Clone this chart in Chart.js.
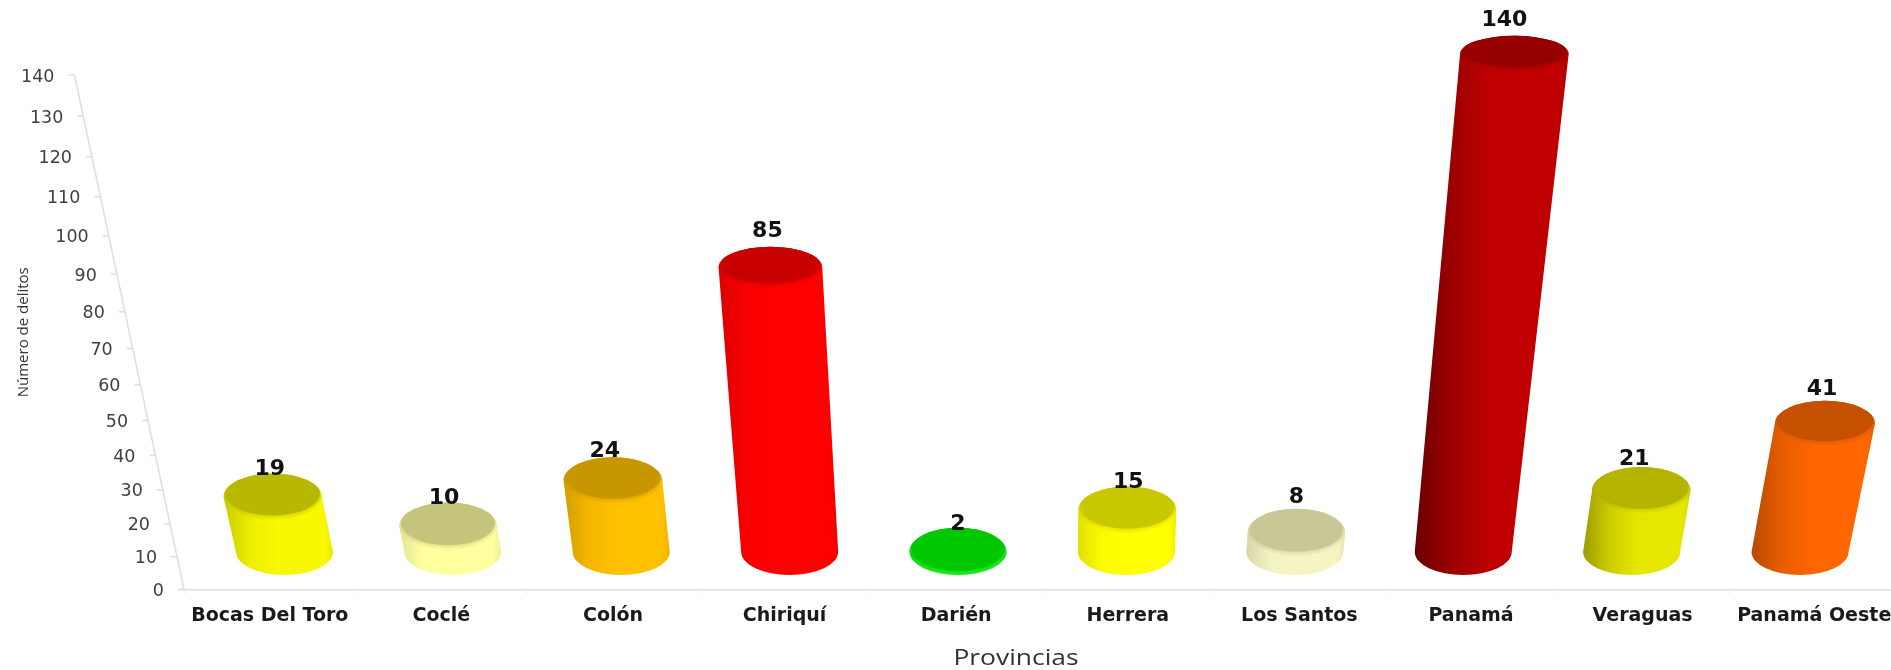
<!DOCTYPE html>
<html lang="es">
<head>
<meta charset="utf-8">
<title>Número de delitos por provincia</title>
<script src="https://cdn.jsdelivr.net/npm/chart.js@4/dist/chart.umd.min.js"></script>
<style>
  html, body { margin: 0; padding: 0; background: #fff; overflow: hidden; width: 1891px; height: 670px; }
  #wrap { width: 1920px; height: 670px; }
  canvas { filter: blur(0.5px); }
</style>
</head>
<body>
<div id="wrap"><canvas id="chart" width="1920" height="670"></canvas></div>
<script>
// ---------- Data ----------
const provincias = ['Bocas Del Toro', 'Coclé', 'Colón', 'Chiriquí', 'Darién', 'Herrera', 'Los Santos', 'Panamá', 'Veraguas', 'Panamá Oeste'];
const delitos = [19, 10, 24, 85, 2, 15, 8, 140, 21, 41];

// ---------- Bar styling ----------
const bodyColors = ['#f8f800', '#ffffa0', '#ffc000', '#ff0000', '#22ee22', '#ffff00', '#f4f4c4', '#c00000', '#e6e600', '#ff6600'];
const faceColors = ['#b8b800', '#c4c47c', '#c89600', '#c80000', '#00c800', '#c8c800', '#c8c896', '#960000', '#b4b400', '#c45000'];
const edgeShades = [0.82, 0.9, 0.82, 0.86, 0.9, 0.88, 0.88, 0.55, 0.68, 0.72];
const labelDx = [-3, -4, -8, -3, 0, 1, 0, -10, -7, -3];
const labelLift = [4, 4, 6, 16, 3, 4, 11, 16, 8, 12];

// ---------- Fake 3D view settings ----------
const VANISH_X = 1056;   // x where columns stand straight
const FLOOR_PULL = 0.0187;
const LEAN = 0.1256;
const BASE_Y_OFFSET = 37.5;  // base centre above the wall's zero
const TOP_Y_OFFSET = 31.5;
const HEIGHT_SCALE = 0.98;

const shade = (hex, f) => {
  const n = parseInt(hex.slice(1), 16);
  const c = [n >> 16, (n >> 8) & 255, n & 255].map((v) => Math.round(v * f));
  return `rgb(${c.join(',')})`;
};

// ---------- Value axis foreshortened towards the viewer ----------
class PerspectiveScale extends Chart.LinearScale {
  static id = 'perspective';
  static defaults = Chart.LinearScale.defaults;

  getPixelForDecimal(d) {
    const k = -0.1193;
    return super.getPixelForDecimal(d * (1 + k) / (1 + k * d));
  }
  // fraction of the full axis height reached by a value, on screen
  rise(v) {
    const y0 = this.getPixelForValue(this.min);
    return (y0 - this.getPixelForValue(v)) / (y0 - this.getPixelForValue(this.max));
  }
  slantX(v) {
    return this.right - 109.5 * this.rise(v);
  }
  _computeLabelItems(chartArea) {
    const items = super._computeLabelItems(chartArea);
    items.forEach((item, i) => {
      item.options.translation[0] = this.slantX(this.ticks[i].value) - 20;
      item.options.translation[1] += 2;
    });
    return items;
  }
}
Chart.register(PerspectiveScale);

// ---------- Slanted value axis line and ticks ----------
const slantedAxis = {
  id: 'slantedAxis',
  beforeDatasetsDraw(chart) {
    const y = chart.scales.y;
    const { ctx } = chart;
    ctx.save();
    ctx.strokeStyle = '#dedede';
    ctx.lineWidth = 1.5;
    ctx.beginPath();
    ctx.moveTo(y.slantX(y.min), y.getPixelForValue(y.min));
    ctx.lineTo(y.slantX(y.max), y.getPixelForValue(y.max));
    y.ticks.forEach((t) => {
      const py = y.getPixelForValue(t.value);
      ctx.moveTo(y.slantX(t.value), py);
      ctx.lineTo(y.slantX(t.value) - 6, py);
    });
    ctx.stroke();
    ctx.restore();
  },
};

// ---------- Cylinders, drawn from the bar elements' scale positions ----------
function cylinderGeom(chart, el, value) {
  const y = chart.scales.y;
  const f = y.rise(value);
  const y0 = y.getPixelForValue(y.min);
  const xb = el.x + (VANISH_X - el.x) * FLOOR_PULL;
  return {
    xb,
    yb: y0 - BASE_Y_OFFSET,
    rb: 48.5,
    ryb: 23,
    xt: xb + (xb - VANISH_X) * LEAN * f,
    yt: y0 - TOP_Y_OFFSET - (y0 - el.y) * HEIGHT_SCALE,
    rt: 48.5 * (1 + 0.12 * f),
    ryt: 24 - 6 * f,
  };
}

function drawCylinder(ctx, g, body, face, edge) {
  const left = Math.min(g.xb - g.rb, g.xt - g.rt);
  const right = Math.max(g.xb + g.rb, g.xt + g.rt);
  const grad = ctx.createLinearGradient(left, 0, right, 0);
  grad.addColorStop(0, shade(body, edge));
  grad.addColorStop(0.25, shade(body, (edge + 1) / 2 + 0.05));
  grad.addColorStop(0.5, body);
  grad.addColorStop(0.92, body);
  grad.addColorStop(1, shade(body, 0.94));

  // side wall
  ctx.beginPath();
  ctx.moveTo(g.xb - g.rb, g.yb);
  ctx.lineTo(g.xt - g.rt, g.yt);
  ctx.ellipse(g.xt, g.yt, g.rt, g.ryt, 0, Math.PI, Math.PI * 2);
  ctx.lineTo(g.xb + g.rb, g.yb);
  ctx.ellipse(g.xb, g.yb, g.rb, g.ryb, 0, 0, Math.PI);
  ctx.closePath();
  ctx.fillStyle = grad;
  ctx.fill();

  // the darker top face, its rim fading into the wall
  ctx.save();
  ctx.beginPath();
  ctx.ellipse(g.xt, g.yt, g.rt, g.ryt, 0, 0, Math.PI * 2);
  ctx.clip();
  ctx.shadowColor = face;
  ctx.shadowBlur = 6;
  ctx.beginPath();
  ctx.ellipse(g.xt, g.yt - 3, g.rt - 2, g.ryt - 1.5, 0, 0, Math.PI * 2);
  ctx.fillStyle = face;
  ctx.fill();
  ctx.restore();
}

const cylinders = {
  id: 'cylinders',
  beforeDatasetDraw() { return false; },
  afterDatasetsDraw(chart) {
    const { ctx } = chart;
    const bars = chart.getDatasetMeta(0).data;
    const geoms = bars.map((el, i) => cylinderGeom(chart, el, delitos[i]));
    geoms.forEach((g, i) => drawCylinder(ctx, g, bodyColors[i], faceColors[i], edgeShades[i]));

    ctx.save();
    ctx.fillStyle = '#111';
    ctx.font = 'bold 22px "DejaVu Sans"';
    ctx.textAlign = 'center';
    ctx.textBaseline = 'middle';
    geoms.forEach((g, i) => {
      ctx.fillText(String(delitos[i]), g.xt + labelDx[i], g.yt - g.ryt - labelLift[i]);
    });
    ctx.restore();
  },
  afterDraw(chart) {
    const { ctx } = chart;
    ctx.save();
    ctx.fillStyle = '#333';
    ctx.font = '22px "Open Sans"';
    ctx.textAlign = 'center';
    ctx.textBaseline = 'middle';
    // the reference text is stretched sideways
    ctx.translate(1016, 659);
    ctx.scale(1.2, 1);
    ctx.fillText('Provincias', 0, 0);
    ctx.restore();
  },
};

// ---------- Chart ----------
new Chart(document.getElementById('chart'), {
  type: 'bar',
  data: {
    labels: provincias,
    datasets: [{ label: 'Número de delitos', data: delitos, backgroundColor: bodyColors }],
  },
  options: {
    responsive: false,
    animation: false,
    events: [],
    layout: { padding: { top: 75, right: 20 } },
    plugins: { legend: { display: false }, tooltip: { enabled: false } },
    scales: {
      x: {
        offset: true,
        afterFit: (s) => { s.height = 80.5; },
        border: { color: '#dedede', width: 1.5 },
        grid: { offset: true, drawOnChartArea: false, tickLength: 4, color: '#ececec' },
        ticks: {
          autoSkip: false, maxRotation: 0, padding: 11, color: '#1a1a1a',
          font: { family: 'DejaVu Sans', weight: 'bold', size: 19 },
        },
      },
      y: {
        type: 'perspective',
        min: 0,
        max: 140,
        afterFit: (s) => { s.width = 184; },
        border: { display: false },
        grid: { display: false },
        ticks: {
          stepSize: 10, autoSkip: false, color: '#404040',
          font: { family: 'DejaVu Sans', size: 17.5 },
        },
        title: {
          display: true, text: 'Número de delitos', color: '#333',
          padding: { top: 15, bottom: 0 },
          font: { family: 'Open Sans', size: 15 },
        },
      },
    },
  },
  plugins: [slantedAxis, cylinders],
});
</script>
</body>
</html>
